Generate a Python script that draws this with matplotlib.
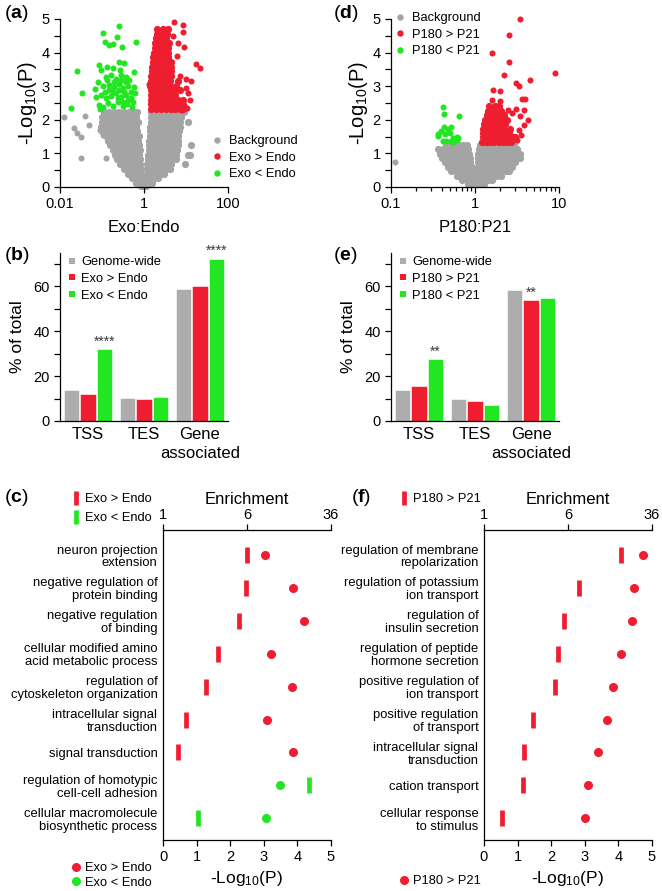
import matplotlib
matplotlib.use('Agg')
import matplotlib.pyplot as plt
from matplotlib.lines import Line2D
from matplotlib.ticker import LogLocator, NullLocator, MultipleLocator, NullFormatter

plt.rcParams['font.family'] = ['Liberation Sans', 'DejaVu Sans']
plt.rcParams['mathtext.fontset'] = 'custom'
plt.rcParams['mathtext.rm'] = 'Liberation Sans'
plt.rcParams['mathtext.it'] = 'Liberation Sans:italic'
plt.rcParams['mathtext.bf'] = 'Liberation Sans:bold'

W, H = 662, 891
RED = '#ee1d2f'
GREEN = '#22e622'
GRAY = '#a4a4a4'
BARGRAY = '#adadad'

# ---- volcano (a): rows of (-log10 P, [log10 Exo:Endo ...]) ----
a_bg_rows = [
    (2.22, [-0.96, -0.84, -0.72, -0.60, -0.48, -0.36, -0.25, -0.16, 0.17, 0.28, 0.40, 0.52, 0.64, 0.76, 0.88, 0.95]),
    (2.08, [-0.99, -0.90, -0.78, -0.66, -0.54, -0.42, -0.30, -0.19, 0.17, 0.29, 0.41, 0.53, 0.65, 0.77, 0.89]),
    (1.94, [-1.00, -0.93, -0.84, -0.72, -0.60, -0.48, -0.36, -0.24, -0.15, 0.16, 0.27, 0.39, 0.51, 0.63, 0.75, 0.86, 1.04]),
    (1.80, [-1.02, -0.90, -0.78, -0.66, -0.54, -0.42, -0.30, -0.18, 0.15, 0.26, 0.38, 0.50, 0.62, 0.74, 0.86]),
    (1.66, [-0.99, -0.88, -0.75, -0.63, -0.51, -0.39, -0.27, -0.16, 0.15, 0.27, 0.39, 0.51, 0.63, 0.75, 0.84]),
    (1.52, [-0.90, -0.80, -0.68, -0.56, -0.44, -0.32, -0.20, -0.13, 0.14, 0.25, 0.37, 0.49, 0.61, 0.73, 0.82]),
    (1.38, [-0.86, -0.74, -0.62, -0.50, -0.38, -0.26, -0.15, 0.13, 0.24, 0.36, 0.48, 0.60, 0.72, 0.81]),
    (1.24, [-0.80, -0.69, -0.57, -0.45, -0.33, -0.21, -0.12, 0.12, 0.23, 0.35, 0.47, 0.59, 0.70, 0.80, 1.12]),
    (1.10, [-0.75, -0.64, -0.52, -0.40, -0.28, -0.17, -0.10, 0.11, 0.22, 0.34, 0.46, 0.58, 0.69, 0.79]),
    (0.96, [-0.70, -0.59, -0.47, -0.35, -0.23, -0.12, 0.10, 0.21, 0.33, 0.45, 0.57, 0.68, 0.77, 1.05, 1.10]),
    (0.82, [-0.64, -0.53, -0.41, -0.29, -0.18, -0.09, 0.09, 0.20, 0.32, 0.44, 0.56, 0.67, 0.76]),
    (0.68, [-0.56, -0.45, -0.33, -0.21, -0.10, 0.08, 0.19, 0.31, 0.43, 0.55, 0.64, 0.98]),
    (0.54, [-0.48, -0.37, -0.25, -0.14, -0.07, 0.07, 0.18, 0.30, 0.42, 0.53, 0.62]),
    (0.40, [-0.38, -0.27, -0.16, -0.06, 0.06, 0.16, 0.27, 0.38, 0.48]),
    (0.26, [-0.28, -0.17, -0.07, 0.05, 0.14, 0.24, 0.33]),
    (0.12, [-0.18, -0.08, -0.02, 0.03, 0.11, 0.20]),
    (0.03, [-0.06, 0.00, 0.04]),
]
a_bg_extra = [(-1.90, 2.07), (-1.66, 1.75), (-1.60, 1.60), (-1.50, 1.48), (-1.50, 0.87),
              (-1.40, 2.10), (-1.30, 1.84), (-0.90, 0.85), (-1.05, 1.70), (-0.98, 1.55)]
a_up_rows = [
    (2.32, [0.17, 0.28, 0.40, 0.52, 0.64, 0.74, 0.85, 0.92]),
    (2.46, [0.17, 0.29, 0.41, 0.53, 0.65, 0.76, 0.88]),
    (2.60, [0.16, 0.27, 0.39, 0.51, 0.63, 0.73, 0.82, 0.94]),
    (2.74, [0.16, 0.28, 0.40, 0.52, 0.64, 0.74]),
    (2.88, [0.16, 0.27, 0.39, 0.51, 0.63, 0.72, 0.86]),
    (3.02, [0.15, 0.27, 0.39, 0.51, 0.63, 0.75]),
    (3.16, [0.16, 0.28, 0.40, 0.52, 0.63, 0.81]),
    (3.30, [0.17, 0.29, 0.41, 0.53, 0.64]),
    (3.44, [0.19, 0.30, 0.42, 0.54, 0.65]),
    (3.58, [0.20, 0.31, 0.43, 0.55, 0.64]),
    (3.72, [0.21, 0.32, 0.44, 0.56, 0.65]),
    (3.86, [0.22, 0.33, 0.45, 0.57]),
    (4.00, [0.24, 0.35, 0.47, 0.58]),
    (4.14, [0.25, 0.36, 0.48, 0.58]),
    (4.28, [0.27, 0.38, 0.50, 0.60]),
    (4.42, [0.28, 0.40, 0.52]),
    (4.56, [0.30, 0.42, 0.54]),
    (4.70, [0.32, 0.45, 0.56]),
]
a_up_extra = [(0.72, 4.92), (0.92, 4.82), (0.92, 4.60), (0.96, 4.18), (1.24, 3.66), (1.33, 3.53),
              (1.12, 3.16), (1.04, 2.80), (1.10, 2.60), (0.13, 3.07), (1.00, 3.20), (0.95, 2.45),
              (0.85, 3.30), (0.99, 2.95), (0.80, 4.30), (0.70, 4.50), (0.78, 3.90), (0.90, 2.30),
              (1.03, 2.35)]
a_down = [(-0.59, 4.79), (-0.98, 4.57), (-0.65, 4.45), (-0.92, 4.32), (-0.83, 4.22), (-0.73, 4.25),
          (-0.52, 4.18), (-0.19, 4.32), (-1.06, 3.63), (-0.60, 3.73), (-0.47, 3.68), (-0.87, 3.57),
          (-0.75, 3.54), (-1.02, 3.47), (-0.56, 3.47), (-0.25, 3.41), (-1.60, 3.45), (-1.10, 3.12),
          (-0.90, 3.27), (-0.78, 3.32), (-0.67, 3.22), (-0.55, 3.32), (-0.43, 3.27), (-0.35, 3.17),
          (-1.16, 2.92), (-0.98, 3.00), (-0.83, 3.05), (-0.71, 2.98), (-0.60, 3.08), (-0.51, 2.96),
          (-0.39, 3.02), (-0.25, 2.97), (-1.48, 2.79), (-1.14, 2.67), (-1.02, 2.74), (-0.90, 2.64),
          (-0.78, 2.71), (-0.67, 2.79), (-0.55, 2.67), (-0.43, 2.74), (-0.31, 2.64), (-0.21, 2.79),
          (-1.08, 2.44), (-0.97, 2.38), (-0.85, 2.50), (-0.74, 2.40), (-0.63, 2.52), (-0.51, 2.40),
          (-0.40, 2.48), (-0.29, 2.38), (-1.74, 2.34), (-1.05, 2.33), (-0.75, 2.84), (-0.47, 2.84),
          (-0.59, 2.89), (-0.39, 2.59), (-0.51, 2.54), (-0.83, 2.89), (-0.94, 2.84), (-0.63, 2.64),
          (-0.27, 2.54), (-0.55, 3.18), (-0.71, 3.13), (-0.43, 3.13), (-0.87, 3.18), (-0.31, 2.84)]

# ---- volcano (d): rows of (-log10 P, [log10 P180:P21 ...]) ----
d_bg_rows = [
    (1.25, [-0.34, -0.29, -0.24, -0.19, -0.14, -0.10, 0.06, 0.11, 0.16, 0.21, 0.26, 0.31, 0.36, 0.41, 0.46]),
    (1.12, [-0.44, -0.38, -0.32, -0.27, -0.22, -0.17, -0.12, -0.08, 0.05, 0.10, 0.15, 0.20, 0.25, 0.30, 0.35, 0.40, 0.45, 0.50]),
    (0.99, [-0.42, -0.36, -0.31, -0.26, -0.21, -0.16, -0.11, -0.07, 0.04, 0.09, 0.14, 0.19, 0.24, 0.29, 0.34, 0.39, 0.44, 0.49, 0.54]),
    (0.86, [-0.39, -0.34, -0.29, -0.24, -0.19, -0.14, -0.10, -0.06, 0.04, 0.09, 0.14, 0.19, 0.24, 0.29, 0.34, 0.39, 0.44, 0.49, 0.53]),
    (0.73, [-0.36, -0.31, -0.26, -0.21, -0.16, -0.11, -0.06, 0.03, 0.08, 0.13, 0.18, 0.23, 0.28, 0.33, 0.38, 0.43, 0.48]),
    (0.60, [-0.32, -0.27, -0.22, -0.17, -0.12, -0.07, -0.04, 0.03, 0.08, 0.13, 0.18, 0.23, 0.28, 0.33, 0.38, 0.44]),
    (0.47, [-0.28, -0.23, -0.18, -0.13, -0.08, -0.04, 0.02, 0.07, 0.12, 0.17, 0.22, 0.27, 0.32, 0.37, 0.41]),
    (0.34, [-0.22, -0.17, -0.12, -0.07, -0.03, 0.02, 0.06, 0.11, 0.16, 0.21, 0.26, 0.31]),
    (0.21, [-0.15, -0.10, -0.05, -0.02, 0.01, 0.05, 0.10, 0.15, 0.20]),
    (0.09, [-0.08, -0.03, 0.02, 0.07, 0.11]),
]
d_bg_extra = [(-0.95, 0.75)]
d_up_rows = [
    (1.35, [0.08, 0.13, 0.18, 0.23, 0.28, 0.33, 0.38, 0.43]),
    (1.48, [0.09, 0.14, 0.19, 0.24, 0.29, 0.34, 0.39, 0.44, 0.48]),
    (1.61, [0.10, 0.15, 0.20, 0.25, 0.30, 0.35, 0.40]),
    (1.74, [0.10, 0.15, 0.20, 0.25, 0.30, 0.35, 0.42]),
    (1.87, [0.11, 0.16, 0.21, 0.26, 0.31, 0.36]),
    (2.00, [0.12, 0.17, 0.22, 0.27, 0.32, 0.38]),
    (2.13, [0.14, 0.19, 0.24, 0.29, 0.34]),
    (2.26, [0.15, 0.20, 0.26, 0.31]),
    (2.40, [0.17, 0.24, 0.29]),
]
d_up_extra = [(0.536, 4.99), (0.40, 4.52), (0.20, 3.98), (0.40, 3.72), (0.95, 3.38), (0.66, 3.18),
              (0.49, 3.09), (0.52, 3.02), (0.345, 3.33), (0.21, 2.89), (0.30, 2.85), (0.20, 2.60),
              (0.30, 2.57), (0.56, 2.61), (0.60, 2.61), (0.49, 2.32), (0.58, 2.30), (0.63, 1.99),
              (0.58, 1.85), (0.54, 2.10), (0.52, 1.71), (0.55, 1.56), (0.50, 1.40), (0.44, 2.20),
              (0.39, 2.30), (0.29, 2.30)]
d_down = [(-0.385, 2.39), (-0.37, 2.17), (-0.19, 2.11), (-0.37, 1.78), (-0.32, 1.74), (-0.28, 1.79),
          (-0.44, 1.58), (-0.44, 1.52), (-0.36, 1.58), (-0.30, 1.60), (-0.26, 1.46), (-0.22, 1.48),
          (-0.38, 1.37), (-0.34, 1.37), (-0.26, 1.35), (-0.22, 1.39), (-0.20, 1.45), (-0.40, 1.66),
          (-0.28, 1.37)]

# ---- bar charts (b), (e): % of total ----
regions = ["TSS", "TES", "Gene\nassociated"]
b_genome = [13.8, 10.4, 58.5]
b_up = [12.0, 9.6, 60.1]
b_down = [31.9, 10.8, 72.1]
e_genome = [13.8, 10.0, 58.4]
e_up = [15.5, 8.9, 53.8]
e_down = [27.4, 7.1, 54.8]

# ---- GO enrichment (c), (f) ----
c_terms = ["neuron projection\nextension", "negative regulation of\nprotein binding",
           "negative regulation\nof binding", "cellular modified amino\nacid metabolic process",
           "regulation of\ncytoskeleton organization", "intracellular signal\ntransduction",
           "signal transduction", "regulation of homotypic\ncell-cell adhesion",
           "cellular macromolecule\nbiosynthetic process"]
c_enrich = [5.95, 5.9, 5.05, 3.2, 2.49, 1.62, 1.38, 22.7, 2.11]
c_logp = [3.04, 3.86, 4.2, 3.2, 3.84, 3.1, 3.87, 3.48, 3.07]
c_up = [True, True, True, True, True, True, True, False, False]

f_terms = ["regulation of membrane\nrepolarization", "regulation of potassium\nion transport",
           "regulation of\ninsulin secretion", "regulation of peptide\nhormone secretion",
           "positive regulation of\nion transport", "positive regulation\nof transport",
           "intracellular signal\ntransduction", "cation transport", "cellular response\nto stimulus"]
f_enrich = [18.5, 7.6, 5.55, 4.8, 4.5, 2.83, 2.33, 2.3, 1.46]
f_logp = [4.72, 4.45, 4.4, 4.08, 3.85, 3.66, 3.38, 3.09, 3.02]
f_up = [True] * 9


fig = plt.figure(figsize=(W / 100, H / 100), dpi=100)


def box(l, t, r, b):
    return [l / W, 1 - b / H, (r - l) / W, (b - t) / H]


def fpos(x, y):
    return (x / W, 1 - y / H)


def clean(ax):
    for s in ('top', 'right'):
        ax.spines[s].set_visible(False)
    for s in ('left', 'bottom'):
        ax.spines[s].set_linewidth(0.9)
    ax.tick_params(which='both', direction='out', width=0.9, colors='black', labelsize=10.5)


def unpack(rows):
    xs, ys = [], []
    for y, row in rows:
        for lx in row:
            xs.append(10 ** lx)
            ys.append(y)
    return xs, ys


def unpack_pts(pts):
    return [10 ** p[0] for p in pts], [p[1] for p in pts]


def legend_at(ax, handles, labels, x, y, **kw):
    opts = dict(loc='upper left', bbox_to_anchor=fpos(x, y), bbox_transform=fig.transFigure,
                frameon=False, borderpad=0, borderaxespad=0, handlelength=1.0,
                handletextpad=0.4, labelspacing=0.35, fontsize=9.3)
    opts.update(kw)
    return ax.legend(handles, labels, **opts)


def volcano(rect, bg, up, down, xlim, xlabel, labels, leg_xy):
    ax = fig.add_axes(rect)
    clean(ax)
    # dense clouds first (bigger dots so they merge), then scattered points
    for rows, extra, c in ((bg[0], bg[1], GRAY), (up[0], up[1], RED), (down[0], down[1], GREEN)):
        if rows:
            xs, ys = unpack(rows)
            ax.scatter(xs, ys, s=27, c=c, lw=0, clip_on=False)
        if extra:
            xs, ys = unpack_pts(extra)
            ax.scatter(xs, ys, s=19, c=c, lw=0, clip_on=False)
    ax.set_xscale('log')
    ax.set_xlim(xlim)
    ax.set_ylim(0, 5)
    ax.xaxis.set_major_locator(LogLocator(base=10))
    ax.xaxis.set_minor_locator(LogLocator(base=10, subs=range(2, 10)))
    ax.xaxis.set_minor_formatter(NullFormatter())
    ax.set_xticks(ax.get_xticks())
    ax.set_xticklabels(['%g' % v for v in ax.get_xticks()])
    ax.set_xlim(xlim)
    ax.yaxis.set_major_locator(MultipleLocator(1))
    ax.yaxis.set_minor_locator(MultipleLocator(0.5))
    ax.tick_params(which='major', length=4)
    ax.tick_params(which='minor', length=3)
    ax.tick_params(axis='y', which='minor', length=4)
    ax.set_xlabel(xlabel, fontsize=12, labelpad=6)
    ax.set_ylabel('-Log$_{10}$(P)', fontsize=14.5, labelpad=2)
    hs = [Line2D([], [], ls='none', marker='o', ms=4.6, mew=0, color=c) for c in (GRAY, RED, GREEN)]
    legend_at(ax, hs, labels, *leg_xy)
    return ax


def bars(rect, g, u, d, up_label, down_label, stars, leg_xy):
    ax = fig.add_axes(rect)
    clean(ax)
    xs = range(len(regions))
    w = 0.28
    for off, vals, c in ((-0.295, g, BARGRAY), (0, u, RED), (0.295, d, GREEN)):
        ax.bar([x + off for x in xs], vals, width=w, color=c, edgecolor='white', linewidth=0.4)
    for gi, off, txt in stars:
        val = [g, u, d][int(round(off / 0.295)) + 1][gi]
        ax.text(gi + off, val + 0.3, txt, ha='center', va='bottom', fontsize=10, color='#3a3a3a')
    ax.set_xlim(-0.5, 2.5)
    ax.set_ylim(0, 74.7)
    ax.set_xticks(list(xs))
    ax.set_xticklabels(regions, fontsize=12, linespacing=1.4)
    ax.tick_params(axis='x', length=0, pad=4)
    ax.yaxis.set_major_locator(MultipleLocator(20))
    ax.yaxis.set_minor_locator(MultipleLocator(10))
    ax.tick_params(axis='y', which='both', length=4)
    ax.set_ylabel('% of total', fontsize=12.5, labelpad=6)
    hs = [Line2D([], [], ls='none', marker='s', ms=4.8, mew=0, color=c) for c in (BARGRAY, RED, GREEN)]
    legend_at(ax, hs, ['Genome-wide', up_label, down_label], *leg_xy, handlelength=0.7,
              labelspacing=0.38)
    return ax


def dots(rect, terms, enrich, logp, up, bar_leg, dot_leg, top_xy, bot_xy):
    ax = fig.add_axes(rect)
    ax.spines['top'].set_visible(False)
    ax.spines['right'].set_visible(False)
    ax.spines['left'].set_linewidth(0.9)
    ax.spines['bottom'].set_linewidth(0.9)
    n = len(terms)
    ylim = (8.66, -0.76)
    ax.set_ylim(ylim)
    ax.set_xlim(0, 5)
    ax.set_xticks(range(6))
    ax.set_yticks(range(n))
    ax.set_yticklabels(terms, fontsize=9.4, linespacing=1.1, ha='right')
    ax.tick_params(axis='y', length=0, pad=4)
    ax.tick_params(axis='x', direction='out', length=4, width=0.9, labelsize=10.5)
    ax.set_xlabel('-Log$_{10}$(P)', fontsize=12.5, labelpad=3)
    ax2 = ax.twiny()
    for s in ('bottom', 'left', 'right'):
        ax2.spines[s].set_visible(False)
    ax2.spines['top'].set_linewidth(0.9)
    ax2.set_xscale('log')
    ax2.set_xlim(1, 36)
    ax2.xaxis.set_minor_locator(NullLocator())
    ax2.set_xticks([1, 6, 36])
    ax2.set_xticklabels(['1', '6', '36'])
    ax2.tick_params(axis='x', direction='out', length=4, width=0.9, labelsize=10.5, pad=1.5)
    ax2.set_xlabel('Enrichment', fontsize=12, labelpad=3)
    ax2.set_ylim(ylim)
    rows = list(range(n))
    colors = [RED if u else GREEN for u in up]
    for r, e, p, c in zip(rows, enrich, logp, colors):
        ax2.plot([e], [r], ls='none', marker='|', ms=11, mew=3.4, color=c, clip_on=False)
        ax.plot([p], [r], ls='none', marker='o', ms=6.5, mew=0, color=c, clip_on=False)
    bh = [Line2D([], [], ls='none', marker='|', ms=10, mew=3.4, color=c) for c in (RED, GREEN)][:len(bar_leg)]
    dh = [Line2D([], [], ls='none', marker='o', ms=6.5, mew=0, color=c) for c in (RED, GREEN)][:len(dot_leg)]
    legend_at(ax2, bh, bar_leg, *top_xy, handlelength=0.6, labelspacing=0.55)
    legend_at(ax, dh, dot_leg, *bot_xy, handlelength=0.6, labelspacing=0.2)
    return ax


volcano(box(60, 19, 228, 187), (a_bg_rows, a_bg_extra), (a_up_rows, a_up_extra),
        ([], a_down), (0.01, 100), 'Exo:Endo', ['Background', 'Exo > Endo', 'Exo < Endo'],
        (211, 135))
volcano(box(391, 19, 559, 187), (d_bg_rows, d_bg_extra), (d_up_rows, d_up_extra),
        ([], d_down), (0.1, 10), 'P180:P21', ['Background', 'P180 > P21', 'P180 < P21'],
        (394, 12))

bars(box(60, 253, 228, 421), b_genome, b_up, b_down, 'Exo > Endo', 'Exo < Endo',
     [(0, 0.295, '****'), (2, 0.295, '****')], (67, 256))
bars(box(391, 253, 559, 421), e_genome, e_up, e_down, 'P180 > P21', 'P180 < P21',
     [(0, 0.295, '**'), (2, 0.0, '**')], (398, 256))

dots(box(163, 530, 331, 840), c_terms, c_enrich, c_logp, c_up,
     ['Exo > Endo', 'Exo < Endo'], ['Exo > Endo', 'Exo < Endo'], (72, 493), (72, 862))
dots(box(484, 530, 652, 840), f_terms, f_enrich, f_logp, f_up,
     ['P180 > P21'], ['P180 > P21'], (400, 493), (400, 875))

for letter, x, y in (('a', 4, 13), ('b', 4, 256), ('c', 4, 497),
                     ('d', 333, 13), ('e', 333, 256), ('f', 351, 497)):
    fig.text(x / W, 1 - y / H, '($\\mathbf{%s}$)' % letter, fontsize=14, va='center', ha='left')

fig.savefig('out.png', dpi=100)
